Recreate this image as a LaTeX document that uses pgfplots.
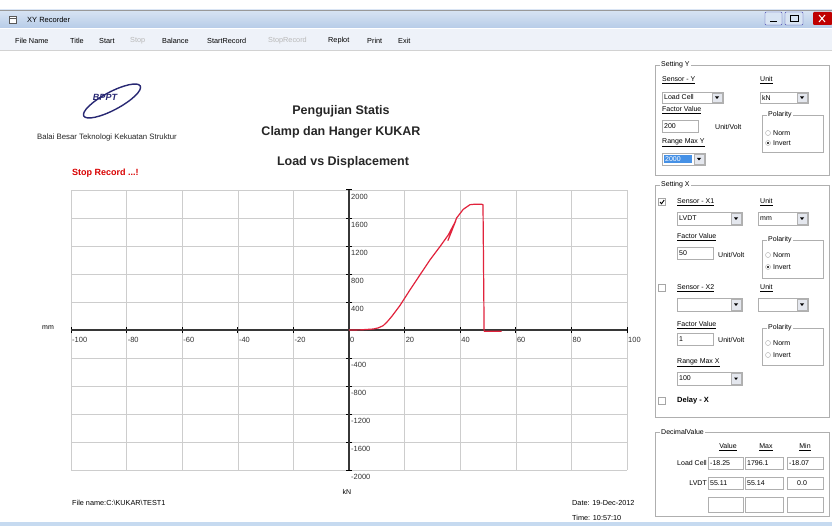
\documentclass[border=0pt]{standalone}
\usepackage{pgfplots}
\pgfplotsset{compat=1.18}
\usepackage{fontspec}
\setmainfont{Liberation Sans}
\definecolor{tb1}{RGB}{216,228,243}
\definecolor{tb2}{RGB}{183,204,232}
\definecolor{menubg}{RGB}{238,242,249}
\definecolor{gridc}{RGB}{205,205,205}
\definecolor{axc}{RGB}{55,55,55}
\definecolor{curve}{RGB}{225,35,60}
\definecolor{frm}{RGB}{175,175,175}
\definecolor{navy}{RGB}{40,40,115}
\definecolor{selblue}{RGB}{70,145,230}
\definecolor{btn}{RGB}{228,231,238}
\definecolor{strip}{RGB}{198,218,240}
\newcommand{\fs}[1]{\fontsize{#1}{#1}\selectfont}
\newcommand{\combo}[5]{%
  \draw[frm, fill=white] (#1,#2) rectangle (#3,#4);
  \draw[gray!60, fill=btn] ({#3-11},{#2+1}) rectangle ({#3-1},{#4-1});
  \fill[black] ({#3-8},{(#2+#4)/2-1}) -- ({#3-4},{(#2+#4)/2-1}) -- ({#3-6},{(#2+#4)/2+1.5}) -- cycle;
  \node[ptext, anchor=west] at ({#1+2},{(#2+#4)/2}) {#5};
}
\newcommand{\tbox}[5]{%
  \draw[frm, fill=white] (#1,#2) rectangle (#3,#4);
  \node[ptext, anchor=west] at ({#1+2},{(#2+#4)/2}) {#5};
}
\newcommand{\radio}[4]{% x,y,text,selected(0/1)
  \draw[gray!70, fill=white] (#1,#2) circle[radius=2.5pt];
  \ifnum#4=1 \fill[black] (#1,#2) circle[radius=1.1pt];\fi
  \node[ptext, anchor=west] at ({#1+5},#2) {#3};
}
\newcommand{\chk}[3]{% x,y,checked
  \draw[gray!70, fill=white] ({#1-3.5},{#2-3.5}) rectangle ({#1+3.5},{#2+3.5});
  \ifnum#3=1 \draw[black, line width=0.9pt] ({#1-2},#2) -- ({#1-0.5},{#2+1.8}) -- ({#1+2.2},{#2-2});\fi
}
\newcommand{\grp}[5]{% x1,y1,x2,y2,label
  \draw[frm] (#1,#2) rectangle (#3,#4);
  \node[ptext, anchor=west, fill=white, inner xsep=1pt] at ({#1+5},#2) {#5};
}
\begin{document}
\begin{tikzpicture}[x=1pt,y=-1pt, ptext/.style={font=\fs{7}, inner sep=0pt}]
\useasboundingbox (0,0) rectangle (832,526);
\fill[white] (0,0) rectangle (832,526);
% title bar
\shade[top color=tb1, bottom color=tb2] (0,10) rectangle (832,28);
\draw[gray!80] (0,10) -- (832,10);
\draw[gray!70!black, fill=white] (9,16) rectangle (16,23);
\draw[gray!70!black] (9,18) -- (16,18);
\node[anchor=west, font=\fs{7.5}, inner sep=0pt] at (27,19.5) {XY Recorder};
\draw[gray!60!blue, fill=tb1, rounded corners=1pt] (765,12) rectangle (782,25);
\draw[black] (770,21) -- (777,21);
\draw[gray!60!blue, fill=tb1, rounded corners=1pt] (785,12) rectangle (803,25);
\draw[black] (790,15.5) rectangle (798,21.5);
\fill[red!75!black, rounded corners=1pt] (813,12) rectangle (832,25);
\draw[white, line width=1pt] (819,15) -- (825,22) (825,15) -- (819,22);
% menu
\fill[menubg] (0,29) rectangle (832,50);
\draw[gray!35] (0,50.5) -- (832,50.5);
\begin{scope}[every node/.style={ptext, anchor=west, font=\fs{7.3}}]
\node at (15,41) {File Name};
\node at (70,41) {Title};
\node at (99,41) {Start};
\node[text=gray!55] at (130,41) {Stop};
\node at (162,41) {Balance};
\node at (207,41) {StartRecord};
\node[text=gray!55] at (268,41) {StopRecord};
\node at (328,41) {Replot};
\node at (367,41) {Print};
\node at (398,41) {Exit};
\end{scope}
% logo
\draw[navy, line width=1.4pt, rotate around={28:(112,101)}] (112,101) ellipse [x radius=32pt, y radius=9pt];
\node[font=\fs{9}\bfseries\itshape, text=navy, inner sep=0pt] at (105,97) {BPPT};
\node[font=\fs{7.8}, inner sep=0pt, text=black!85] at (107,137) {Balai Besar Teknologi Kekuatan Struktur};
\node[font=\fs{9}\bfseries, text=red!85!black, inner sep=0pt, anchor=west] at (72,173) {Stop Record ...!};
% titles
\node[font=\fs{12.5}\bfseries, inner sep=0pt, text=black!85] at (341,111) {Pengujian Statis};
\node[font=\fs{12.5}\bfseries, inner sep=0pt, text=black!85] at (341,132) {Clamp dan Hanger KUKAR};
\node[font=\fs{12.5}\bfseries, inner sep=0pt, text=black!85] at (343,162) {Load vs Displacement};
% axis
\begin{axis}[at={(71pt,-470pt)}, anchor=south west, width=556pt, height=280pt, scale only axis,
  xmin=-100, xmax=100, ymin=-2000, ymax=2000,
  axis lines=center, axis line style={axc, line width=1.3pt, -},
  hide obscured x ticks=false, hide obscured y ticks=false,
  grid=major, grid style={gridc, line width=0.6pt},
  xtick={-100,-80,-60,-40,-20,0,20,40,60,80,100},
  xticklabels={-100,-80,-60,-40,-20,0,20,40,60,80,100},
  ytick={-2000,-1600,-1200,-800,-400,400,800,1200,1600,2000},
  yticklabels={-2000,-1600,-1200,-800,-400,400,800,1200,1600,2000},
  tick align=center, major tick length=6pt, tick style={black, line width=1pt},
  xticklabel style={font=\fs{7.5}, anchor=north west, inner sep=0pt, xshift=1pt, yshift=-4pt, text=black!80},
  yticklabel style={font=\fs{7.5}, anchor=north west, inner sep=0pt, xshift=5pt, yshift=-4pt, text=black!80},
  /pgf/number format/assume math mode=true,
  clip=false]
\addplot[curve, line width=1.2pt, line join=round] coordinates {
 (0,0) (4,2) (8.8,14) (10.5,30) (12.3,62) (13.8,120) (15.3,190) (18.3,348) (21.9,571) (25.5,786)
 (29.1,1000) (32.7,1190) (35.7,1357) (38.4,1560) (35.6,1280) (38.7,1600) (41.1,1724)
 (43.5,1790) (45,1796) (47.7,1796) (48.2,1790) (48.6,-18) (51,-18) (54.9,-18)};
\end{axis}
\node[ptext, font=\fs{7}, anchor=west] at (42,328) {mm};
\node[ptext, font=\fs{7}] at (347,492) {kN};
\node[ptext, font=\fs{7.3}, anchor=west] at (72,503) {File name:C:\textbackslash KUKAR\textbackslash TEST1};
\node[ptext, font=\fs{7.3}, anchor=west] at (572,503) {Date: 19-Dec-2012};
\node[ptext, font=\fs{7.3}, anchor=west] at (572,518) {Time: 10:57:10};
% right panel : Setting Y
\grp{655}{65}{829}{175}{Setting Y}
\node[ptext, anchor=west] at (662,80) {\underline{Sensor - Y}};
\combo{662}{92}{723}{103}{Load Cell}
\node[ptext, anchor=west] at (760,80) {\underline{Unit}};
\combo{760}{92}{808}{103}{kN}
\node[ptext, anchor=west] at (662,110) {\underline{Factor Value}};
\tbox{662}{120}{698}{132}{200}
\node[ptext, anchor=west] at (715,127) {Unit/Volt};
\grp{762}{115}{823}{152}{Polarity}
\radio{768}{133}{Norm}{0}
\radio{768}{143}{Invert}{1}
\node[ptext, anchor=west] at (662,143) {\underline{Range Max Y}};
\combo{662}{153}{705}{165}{}
\fill[selblue] (664,155) rectangle (692,163);
\node[ptext, anchor=west, text=white] at (665,159) {2000};
% Setting X
\grp{655}{185}{829}{417}{Setting X}
\chk{662}{202}{1}
\node[ptext, anchor=west] at (677,202) {\underline{Sensor - X1}};
\node[ptext, anchor=west] at (760,202) {\underline{Unit}};
\combo{677}{212}{742}{225}{LVDT}
\combo{758}{212}{808}{225}{mm}
\node[ptext, anchor=west] at (677,237) {\underline{Factor Value}};
\tbox{677}{247}{713}{259}{50}
\node[ptext, anchor=west] at (718,255) {Unit/Volt};
\grp{762}{240}{823}{278}{Polarity}
\radio{768}{255}{Norm}{0}
\radio{768}{267}{Invert}{1}
\chk{662}{288}{0}
\node[ptext, anchor=west] at (677,288) {\underline{Sensor - X2}};
\node[ptext, anchor=west] at (760,288) {\underline{Unit}};
\combo{677}{298}{742}{311}{}
\combo{758}{298}{808}{311}{}
\node[ptext, anchor=west] at (677,325) {\underline{Factor Value}};
\tbox{677}{333}{713}{345}{1}
\node[ptext, anchor=west] at (718,340) {Unit/Volt};
\grp{762}{328}{823}{365}{Polarity}
\radio{768}{343}{Norm}{0}
\radio{768}{355}{Invert}{0}
\node[ptext, anchor=west] at (677,363) {\underline{Range Max X}};
\combo{677}{372}{742}{385}{100}
\chk{662}{401}{0}
\node[ptext, anchor=west, font=\fs{7.5}\bfseries] at (677,401) {Delay - X};
% Decimal value
\grp{655}{432}{829}{516}{DecimalValue}
\node[ptext] at (728,447) {\underline{Value}};
\node[ptext] at (766,447) {\underline{Max}};
\node[ptext] at (805,447) {\underline{Min}};
\node[ptext, anchor=east] at (707,463) {Load Cell};
\node[ptext, anchor=east] at (707,483) {LVDT};
\tbox{708}{457}{743}{469}{-18.25}
\tbox{745}{457}{783}{469}{1796.1}
\tbox{787}{457}{823}{469}{-18.07}
\tbox{708}{477}{743}{489}{55.11}
\tbox{745}{477}{783}{489}{55.14}
\tbox{787}{477}{823}{489}{\hspace{8pt}0.0}
\tbox{708}{497}{743}{512}{}
\tbox{745}{497}{783}{512}{}
\tbox{787}{497}{823}{512}{}
% bottom strip
\fill[strip] (0,522) rectangle (832,526);
\end{tikzpicture}
\end{document}
